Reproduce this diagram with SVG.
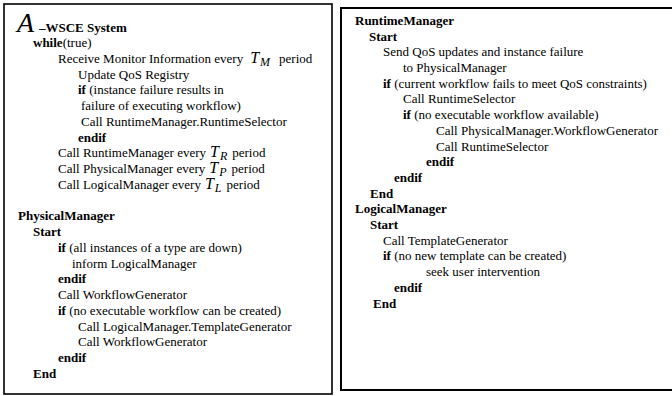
<svg xmlns="http://www.w3.org/2000/svg" width="672" height="396" viewBox="0 0 672 396">
<style>
text{font-family:"Liberation Serif","Times New Roman",serif;font-size:13px;fill:#000}
.b{font-weight:bold}
.m{font-style:italic;font-size:16px}
.s{font-style:italic;font-size:12px}
.box{fill:#fff;stroke:#000}
</style>
<rect width="672" height="396" fill="#fff"/>
<g id="system-box">
<rect class="box" x="4" y="4" width="328" height="390" stroke-width="1.6"/>
<text x="17" y="32" style="font-style:italic;font-size:28px">A</text>
<text x="39" y="32" class="b">–WSCE System</text>
<text x="33" y="47"><tspan class="b">while</tspan>(true)</text>
<text x="58" y="63">Receive Monitor Information every<tspan class="m" dx="7">T</tspan><tspan class="s" dy="3" dx="1">M</tspan><tspan dy="-3" dx="9">period</tspan></text>
<text x="78" y="79">Update QoS Registry</text>
<text x="78" y="94"><tspan class="b">if</tspan> (instance failure results in</text>
<text x="81" y="110">failure of executing workflow)</text>
<text x="81" y="126">Call RuntimeManager.RuntimeSelector</text>
<text x="78" y="142" class="b">endif</text>
<text x="58" y="157">Call RuntimeManager every<tspan class="m" dx="4">T</tspan><tspan class="s" dy="3" dx="1">R</tspan><tspan dy="-3" dx="5">period</tspan></text>
<text x="58" y="173">Call PhysicalManager every<tspan class="m" dx="4">T</tspan><tspan class="s" dy="3" dx="1">P</tspan><tspan dy="-3" dx="5">period</tspan></text>
<text x="58" y="189">Call LogicalManager every<tspan class="m" dx="4">T</tspan><tspan class="s" dy="3" dx="1">L</tspan><tspan dy="-3" dx="5">period</tspan></text>
</g>
<g id="physical-manager">
<text x="18" y="220" class="b">PhysicalManager</text>
<text x="33" y="236" class="b">Start</text>
<text x="58" y="252"><tspan class="b">if</tspan> (all instances of a type are down)</text>
<text x="72" y="268">inform LogicalManager</text>
<text x="58" y="283" class="b">endif</text>
<text x="58" y="299">Call WorkflowGenerator</text>
<text x="58" y="315"><tspan class="b">if</tspan> (no executable workflow can be created)</text>
<text x="78" y="331">Call LogicalManager.TemplateGenerator</text>
<text x="78" y="346">Call WorkflowGenerator</text>
<text x="58" y="362" class="b">endif</text>
<text x="33" y="378" class="b">End</text>
</g>
<g id="managers-box">
<rect class="box" x="341" y="8" width="340" height="382" stroke-width="2"/>
</g>
<g id="runtime-manager">
<text x="355" y="25" class="b">RuntimeManager</text>
<text x="369" y="41" class="b">Start</text>
<text x="383" y="56">Send QoS updates and instance failure</text>
<text x="403" y="72">to PhysicalManager</text>
<text x="383" y="88"><tspan class="b">if</tspan> (current workflow fails to meet QoS constraints)</text>
<text x="403" y="103">Call RuntimeSelector</text>
<text x="403" y="119"><tspan class="b">if</tspan> (no executable workflow available)</text>
<text x="436" y="135">Call PhysicalManager.WorkflowGenerator</text>
<text x="436" y="151">Call RuntimeSelector</text>
<text x="426" y="166" class="b">endif</text>
<text x="394" y="182" class="b">endif</text>
<text x="370" y="198" class="b">End</text>
</g>
<g id="logical-manager">
<text x="355" y="213" class="b">LogicalManager</text>
<text x="370" y="229" class="b">Start</text>
<text x="383" y="245">Call TemplateGenerator</text>
<text x="383" y="260"><tspan class="b">if</tspan> (no new template can be created)</text>
<text x="426" y="276">seek user intervention</text>
<text x="394" y="292" class="b">endif</text>
<text x="373" y="308" class="b">End</text>
</g>
<g id="connectors"/>
</svg>
